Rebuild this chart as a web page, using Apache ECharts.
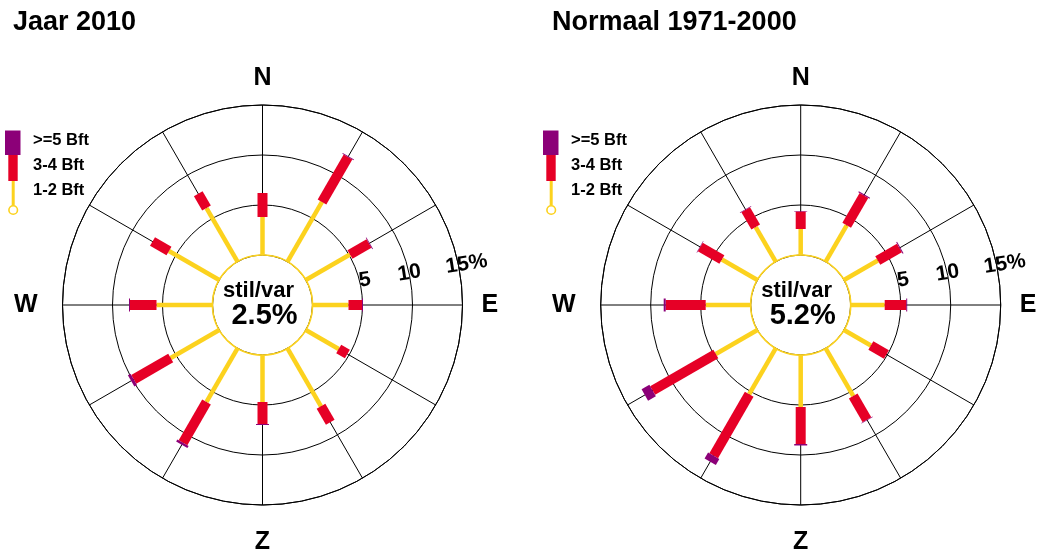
<!DOCTYPE html>
<html>
<head>
<meta charset="utf-8">
<script src="https://cdn.jsdelivr.net/npm/echarts@6/dist/echarts.min.js"></script>
<style>
html,body{margin:0;padding:0;background:#fff;}
#chart{width:1040px;height:554px;}
</style>
</head>
<body>
<div id="chart"></div>
<script>
// ---- data ----
const directions = [0, 30, 60, 90, 120, 150, 180, 210, 240, 270, 300, 330];
const compassLabels = { 0: 'N', 90: 'E', 180: 'Z', 270: 'W' };
const radiusTicks = [5, 10, 15];
const legendLabels = ['>=5 Bft', '3-4 Bft', '1-2 Bft'];

const title2010 = 'Jaar 2010';
const bft12_2010 = [3.8, 6.9, 5.1, 3.6, 3.8, 6.7, 4.7, 6.2, 5.6, 5.6, 5.8, 6.2];
const bft34_2010 = [2.4, 5.2, 2.2, 1.35, 1.0, 1.85, 2.2, 4.7, 4.27, 2.65, 1.9, 1.65];
const bft5_2010  = [0, 0.08, 0.08, 0.1, 0, 0, 0.1, 0.25, 0.3, 0.1, 0, 0];
const stil2010 = 2.5;

const titleNorm = 'Normaal 1971-2000';
const bft12_norm = [2.6, 4.2, 3.9, 3.4, 3.1, 5.5, 5.2, 5.3, 4.8, 4.5, 4.1, 4.0];
const bft34_norm = [1.75, 3.45, 2.5, 2.15, 1.8, 2.75, 3.7, 7.1, 7.3, 4.0, 2.5, 2.0];
const bft5_norm  = [0.05, 0.1, 0.1, 0.1, 0, 0.05, 0.15, 0.7, 0.9, 0.2, 0.05, 0.05];
const stilNorm = 5.2;

// ---- styling ----
const YELLOW = '#fcd21e';
const RED = '#e60026';
const PURPLE = '#8c0078';
const FONT = 'Liberation Sans, Arial, Helvetica, sans-serif';

const charts = [
  { cx: 262.5, cy: 305, title: title2010, b12: bft12_2010, b34: bft34_2010, b5: bft5_2010, stil: stil2010, legendX: 0 },
  { cx: 800.7, cy: 305, title: titleNorm, b12: bft12_norm, b34: bft34_norm, b5: bft5_norm, stil: stilNorm, legendX: 538 }
];

const compassRich = {
  N: { padding: [0, 0, 0, 0] },
  E: { padding: [0, 0, 0, 5] },
  Z: { padding: [11, 0, 0, 0] },
  W: { padding: [0, 11, 0, 0] }
};
const radiusRich = {
  r5: { padding: [0, 0, 0, 10] },
  r10: { padding: [0, 0, 0, 0] },
  r15: { padding: [0, 0, 0, 16] }
};

const polar = [], angleAxis = [], radiusAxis = [], series = [], graphic = [];

function styleRich(rich, size) {
  const out = {};
  Object.keys(rich).forEach(function (k) {
    out[k] = Object.assign({ color: '#000', fontSize: size, fontWeight: 'bold', fontFamily: FONT }, rich[k]);
  });
  return out;
}

charts.forEach(function (c, k) {
  const base = k * 3;
  // grid + data polar
  polar.push({ center: [c.cx, c.cy], radius: [50, 200] });
  angleAxis.push({
    polarIndex: base, type: 'value', min: 0, max: 360, interval: 30, startAngle: 90, clockwise: true,
    axisLine: { show: true, lineStyle: { color: '#000', width: 1 } },
    axisTick: { show: false },
    axisLabel: {
      show: true, margin: 14,
      formatter: function (v) { const t = compassLabels[v]; return t ? '{' + t + '|' + t + '}' : ''; },
      rich: styleRich(compassRich, 25),
      color: '#000', fontSize: 25, fontWeight: 'bold', fontFamily: FONT
    },
    splitLine: { show: true, lineStyle: { color: '#000', width: 1 } }
  });
  radiusAxis.push({
    polarIndex: base, type: 'value', min: 0, max: 15, interval: 5,
    axisLine: { show: false }, axisTick: { show: false }, axisLabel: { show: false },
    splitLine: { show: true, lineStyle: { color: ['rgba(0,0,0,0)', '#000', '#000', '#000'], width: 1 } }
  });
  // label polar (radius axis rotated slightly above east)
  polar.push({ center: [c.cx, c.cy], radius: [50, 200] });
  angleAxis.push({ polarIndex: base + 1, type: 'value', min: 0, max: 360, startAngle: 9, show: false });
  radiusAxis.push({
    polarIndex: base + 1, type: 'value', min: 0, max: 15, interval: 5,
    axisLine: { show: false }, axisTick: { show: false }, splitLine: { show: false },
    axisLabel: {
      show: true, rotate: 9, margin: -2, showMinLabel: true, showMaxLabel: true,
      formatter: function (v) {
        if (radiusTicks.indexOf(v) < 0) return '';
        const txt = v === radiusTicks[radiusTicks.length - 1] ? v + '%' : String(v);
        return '{r' + v + '|' + txt + '}';
      },
      rich: styleRich(radiusRich, 21),
      color: '#000', fontSize: 21, fontWeight: 'bold', fontFamily: FONT
    }
  });
  // stil/var circle polar
  polar.push({ center: [c.cx, c.cy], radius: 50 });
  angleAxis.push({
    polarIndex: base + 2, type: 'value', min: 0, max: 360, startAngle: 90,
    axisLine: { show: true, lineStyle: { color: YELLOW, width: 1.6 } },
    axisTick: { show: false }, axisLabel: { show: false }, splitLine: { show: false }
  });
  radiusAxis.push({ polarIndex: base + 2, type: 'value', min: 0, max: 1, show: false });

  const data = directions.map(function (d, i) { return [d, c.b12[i], c.b34[i], c.b5[i]]; });
  series.push({
    type: 'custom',
    coordinateSystem: 'polar',
    polarIndex: base,
    encode: { angle: 0, radius: 1 },
    data: data,
    z: 5,
    renderItem: function (params, api) {
      const ang = api.value(0);
      const y = api.value(1), r = api.value(2), p = api.value(3);
      const p0 = api.coord([0, ang]);
      const p1 = api.coord([y, ang]);
      const p2 = api.coord([y + r, ang]);
      const p3 = api.coord([y + r + p, ang]);
      const children = [
        { type: 'line', shape: { x1: p0[0], y1: p0[1], x2: p1[0], y2: p1[1] }, style: { stroke: YELLOW, lineWidth: 4.5, lineCap: 'butt' } },
        { type: 'line', shape: { x1: p1[0], y1: p1[1], x2: p2[0], y2: p2[1] }, style: { stroke: RED, lineWidth: 10, lineCap: 'butt' } }
      ];
      if (p > 0) {
        children.push({ type: 'line', shape: { x1: p2[0], y1: p2[1], x2: p3[0], y2: p3[1] }, style: { stroke: PURPLE, lineWidth: 13, lineCap: 'butt' } });
      }
      return { type: 'group', children: children };
    }
  });

  // titles and centre text
  graphic.push({
    type: 'text', left: k === 0 ? 13 : 552, top: 9,
    style: { text: c.title, font: 'bold 27px ' + FONT, fill: '#000' }
  });
  graphic.push({
    type: 'text', x: c.cx - 4, y: c.cy - 14,
    style: { text: 'stil/var', font: 'bold 22px ' + FONT, fill: '#000', align: 'center', verticalAlign: 'middle' }
  });
  graphic.push({
    type: 'text', x: c.cx + 2, y: c.cy + 11,
    style: { text: c.stil.toFixed(1) + '%', font: 'bold 29px ' + FONT, fill: '#000', align: 'center', verticalAlign: 'middle' }
  });
  // legend
  const lx = c.legendX;
  graphic.push({ type: 'rect', shape: { x: lx + 5, y: 130.5, width: 15.5, height: 24.5 }, style: { fill: PURPLE } });
  graphic.push({ type: 'rect', shape: { x: lx + 8.3, y: 155, width: 9.4, height: 26 }, style: { fill: RED } });
  graphic.push({ type: 'line', shape: { x1: lx + 13.2, y1: 181, x2: lx + 13.2, y2: 205.5 }, style: { stroke: YELLOW, lineWidth: 3 } });
  graphic.push({ type: 'circle', shape: { cx: lx + 13.2, cy: 210, r: 4.3 }, style: { fill: '#fff', stroke: YELLOW, lineWidth: 1.6 } });
  legendLabels.forEach(function (t, i) {
    graphic.push({
      type: 'text', x: lx + 33, y: 140.5 + i * 25,
      style: { text: t, font: 'bold 16.5px ' + FONT, fill: '#000', verticalAlign: 'middle' }
    });
  });
});

const chart = echarts.init(document.getElementById('chart'), null, { renderer: 'canvas' });
chart.setOption({
  backgroundColor: '#fff',
  animation: false,
  polar: polar,
  angleAxis: angleAxis,
  radiusAxis: radiusAxis,
  series: series,
  graphic: graphic
});
</script>
</body>
</html>
